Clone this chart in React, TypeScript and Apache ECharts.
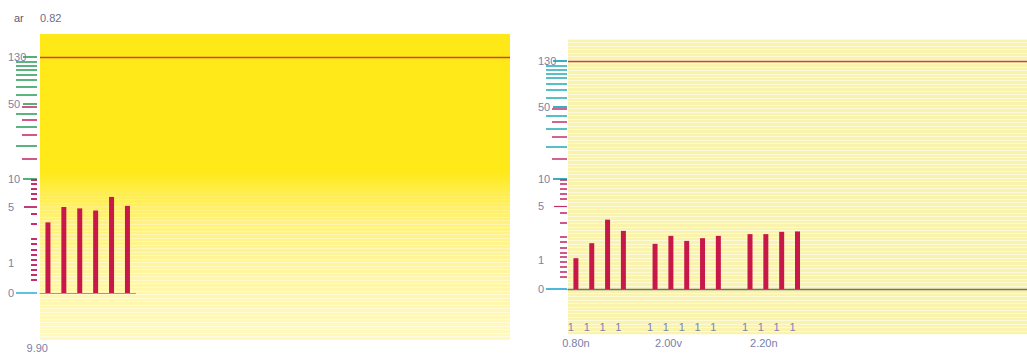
import React, { useEffect, useRef } from "react";
import * as echarts from "echarts";

// ---- scale (non-linear) ----
const scaleAnchors = [0, 1, 5, 10, 50, 130];
const scaleUnits = [0, 30, 86, 114, 189, 236];
const T = (v: number): number => {
  for (let i = 1; i < scaleAnchors.length; i++) {
    if (v <= scaleAnchors[i] || i === scaleAnchors.length - 1) {
      const a0 = scaleAnchors[i - 1], a1 = scaleAnchors[i];
      const u0 = scaleUnits[i - 1], u1 = scaleUnits[i];
      return u0 + ((v - a0) / (a1 - a0)) * (u1 - u0);
    }
  }
  return 0;
};
const Y_MIN = -47;
const Y_MAX = 259;

// ---- axis ticks / labels ----
const yLabels = [0, 1, 5, 10, 50, 130];
const longTicks = [122, 115, 108, 100, 91, 79, 66, 45, 38, 28];
const labelTicks = [130, 50, 10];
const upperMinorTicks = [48.6, 41.5, 33.5, 21];
const lowerMinorTicks = [9.8, 9.2, 8.3, 7.3, 6.4, 4.5, 3.8, 2.76, 2.36, 1.93, 1.57, 1.26, 0.93, 0.77, 0.6, 0.43];
const fiveTick = [5];
const zeroTick = [0];
const refLevel = 130;

// ---- left panel ----
const leftCategories = ["c1", "c2", "c3", "c4", "c5", "c6"];
const leftValues = [3.9, 5.0, 4.9, 4.75, 6.8, 5.2];
const leftBottomLabels = ["9.90", "", "", "", "", ""];

// ---- right panel ----
const rightCategories = Array.from({ length: 29 }, (_, i) => "s" + i);
const rightValues: (number | null)[] = [
  1.15, 2.26, 4.0, 3.17, null, 2.21, 2.8, 2.43, 2.63, 2.8, null, 2.93, 2.93, 3.1, 3.13,
  null, null, null, null, null, null, null, null, null, null, null, null, null, null,
];
const rightTickLabels = [
  "1", "1", "1", "1", "", "1", "1", "1", "1", "1", "", "1", "1", "1", "1",
  "", "", "", "", "", "", "", "", "", "", "", "", "", "",
];
const rightBottomLabels = [
  "0.80n", "", "", "", "", "2.00v", "", "", "", "", "", "2.20n", "", "", "",
  "", "", "", "", "", "", "", "", "", "", "", "", "", "",
];

const FONT = "'Liberation Sans Narrow', 'Liberation Sans', sans-serif";
const LABEL_COLOR = "#7b7fa8";
const BAR_COLOR = "#C8184A";
const REF_COLOR = "#d0403a";

function tickAxis(gridIndex: number, values: number[], color: string, length: number, width: number, offset: number) {
  return {
    type: "value",
    gridIndex,
    min: Y_MIN,
    max: Y_MAX,
    position: "left",
    offset,
    axisLine: { show: false },
    splitLine: { show: false },
    axisLabel: { show: false },
    axisTick: { show: true, customValues: values.map(T), length, lineStyle: { color, width } },
  };
}

function labelAxis(gridIndex: number, offset: number, margin: number) {
  return {
    type: "value",
    gridIndex,
    min: Y_MIN,
    max: Y_MAX,
    position: "left",
    offset,
    axisLine: { show: false },
    splitLine: { show: false },
    axisTick: { show: false },
    axisLabel: {
      show: true,
      customValues: yLabels.map(T),
      formatter: (val: number) => {
        let best = yLabels[0];
        let d = Infinity;
        yLabels.forEach((l) => {
          const dd = Math.abs(T(l) - val);
          if (dd < d) { d = dd; best = l; }
        });
        return String(best);
      },
      align: "left",
      margin,
      color: LABEL_COLOR,
      fontSize: 11,
      fontFamily: FONT,
    },
  };
}

function refLine(width: number) {
  return {
    silent: true,
    symbol: ["none", "none"],
    label: { show: false },
    lineStyle: { color: REF_COLOR, width, type: "solid", opacity: 1 },
    itemStyle: { color: REF_COLOR },
    data: [{ yAxis: T(refLevel), lineStyle: { color: REF_COLOR, width } }],
  };
}

export default function App() {
  const ref = useRef<HTMLDivElement>(null);
  useEffect(() => {
    document.body.style.margin = "0";
    if (!ref.current) return;
    const chart = echarts.init(ref.current, null, { renderer: "svg" });

    const leftBg = new echarts.graphic.LinearGradient(0, 0, 0, 1, [
      { offset: 0, color: "#FFE817" },
      { offset: 0.45, color: "#FFE919" },
      { offset: 0.52, color: "#FFEE4E" },
      { offset: 0.62, color: "#FFF27E" },
      { offset: 0.8, color: "#FFF6A6" },
      { offset: 1, color: "#FFF9C0" },
    ]);
    const leftStripe = new echarts.graphic.LinearGradient(0, 34, 0, 340, [
      { offset: 0, color: "rgba(255,255,255,0)" },
      { offset: 0.5, color: "rgba(255,255,255,0)" },
      { offset: 0.62, color: "rgba(255,255,255,0.35)" },
      { offset: 1, color: "rgba(255,255,255,0.55)" },
    ], true);

    const yAxes: any[] = [
      // grid 0 (left background + axis)
      labelAxis(0, 3, 29),
      tickAxis(0, longTicks, "#35a05e", 21, 1.6, 3),
      tickAxis(0, labelTicks, "#2f9a55", 14, 1.6, 3),
      tickAxis(0, upperMinorTicks, "#c2306c", 15, 1.6, 3),
      tickAxis(0, lowerMinorTicks, "#c2306c", 6, 2, 3),
      tickAxis(0, fiveTick, "#b8286a", 13, 1.8, 3),
      tickAxis(0, zeroTick, "#38b2d8", 21, 1.6, 3),
      // grid 1 (left bars)
      { type: "value", gridIndex: 1, min: Y_MIN, max: Y_MAX, show: false },
      // grid 2 (right panel)
      labelAxis(2, 1, 29),
      tickAxis(2, longTicks, "#2fb0b8", 21, 1.6, 1),
      tickAxis(2, labelTicks, "#26a6b8", 14, 1.8, 1),
      tickAxis(2, upperMinorTicks, "#c2306c", 15, 1.5, 1),
      tickAxis(2, lowerMinorTicks, "#c2306c", 7, 1.6, 1),
      tickAxis(2, fiveTick, "#c2306c", 13, 1.2, 1),
      tickAxis(2, zeroTick, "#38b2d8", 21, 1.8, 1),
      {
        type: "value", gridIndex: 2, min: 0, max: 85, interval: 1, position: "right",
        axisLine: { show: false }, axisTick: { show: false }, axisLabel: { show: false },
        splitLine: { show: true, lineStyle: { color: "rgba(255,255,255,0.55)", width: 1 } },
      },
      {
        type: "value", gridIndex: 0, min: 0, max: 87, interval: 1, position: "right",
        axisLine: { show: false }, axisTick: { show: false }, axisLabel: { show: false },
        splitLine: { show: true, lineStyle: { color: leftStripe, width: 1 } },
      },
    ];

    const option: any = {
      animation: false,
      title: [
        { text: "ar", left: 9, top: 7, textStyle: { fontSize: 11, fontWeight: "normal", color: "#5e6074", fontFamily: FONT } },
        { text: "0.82", left: 35, top: 7, textStyle: { fontSize: 11, fontWeight: "normal", color: "#6a6e8a", fontFamily: FONT } },
      ],
      grid: [
        { left: 40, top: 34, width: 470, height: 306, show: true, backgroundColor: leftBg, borderWidth: 0, containLabel: false, outerBoundsMode: "none" },
        { left: 40, top: 34, width: 95.4, height: 306, show: false, containLabel: false, outerBoundsMode: "none" },
        { left: 568, top: 39, right: 0, height: 295.6, show: true, backgroundColor: "#FAF3AE", borderWidth: 0, containLabel: false, outerBoundsMode: "none" },
      ],
      xAxis: [
        { type: "value", gridIndex: 0, min: 0, max: 1, show: false },
        {
          type: "category", gridIndex: 1, data: leftCategories, position: "bottom",
          axisLine: { show: true, onZero: true, lineStyle: { color: "#9a9aa0", width: 1.2 } },
          axisTick: { show: false }, axisLabel: { show: false }, splitLine: { show: false },
        },
        {
          type: "category", gridIndex: 1, data: leftCategories, position: "bottom",
          axisLine: { show: false, onZero: false }, axisTick: { show: false }, splitLine: { show: false },
          axisLabel: {
            interval: 0, margin: 2, align: "right", color: LABEL_COLOR, fontSize: 11, fontFamily: FONT,
            formatter: (_v: string, i: number) => leftBottomLabels[i],
          },
        },
        {
          type: "category", gridIndex: 2, data: rightCategories, position: "bottom",
          axisLine: { show: true, onZero: true, onZeroAxisIndex: 8, lineStyle: { color: "#6e7080", width: 1.3 } },
          axisTick: { show: false }, splitLine: { show: false }, axisLabel: { show: false },
        },
        {
          type: "category", gridIndex: 2, data: rightCategories.map((c, i) => (
            i === 0 ? c : { value: c, textStyle: { align: "left" } }
          )), position: "bottom",
          axisLine: { show: false, onZero: false }, axisTick: { show: false }, splitLine: { show: false },
          axisLabel: {
            interval: 0, margin: 3, color: "#7a80a8", fontSize: 11, fontFamily: FONT,
            formatter: (_v: string, i: number) => rightBottomLabels[i],
          },
        },
        {
          type: "category", gridIndex: 2, data: rightCategories, position: "bottom",
          axisLine: { show: false, onZero: false }, axisTick: { show: false }, splitLine: { show: false },
          axisLabel: {
            inside: true, interval: 0, margin: 2, color: "#7a80b0", fontSize: 11, fontFamily: FONT,
            padding: [0, 10, 0, 0],
            formatter: (_v: string, i: number) => rightTickLabels[i],
          },
        },
      ],
      yAxis: yAxes,
      series: [
        {
          type: "line", xAxisIndex: 0, yAxisIndex: 0, data: [],
          markLine: refLine(1.3),
        },
        {
          type: "line", xAxisIndex: 3, yAxisIndex: 8, data: [],
          markLine: refLine(1.3),
        },
        {
          type: "bar", xAxisIndex: 1, yAxisIndex: 7, barWidth: 5,
          data: leftValues.map(T), itemStyle: { color: BAR_COLOR },
        },
        {
          type: "bar", xAxisIndex: 3, yAxisIndex: 8, barWidth: 5,
          data: rightValues.map((v) => (v == null ? null : T(v))), itemStyle: { color: BAR_COLOR },
        },
      ],
    };
    chart.setOption(option);
    return () => chart.dispose();
  }, []);
  return <div ref={ref} style={{ width: 1027, height: 354 }} />;
}
